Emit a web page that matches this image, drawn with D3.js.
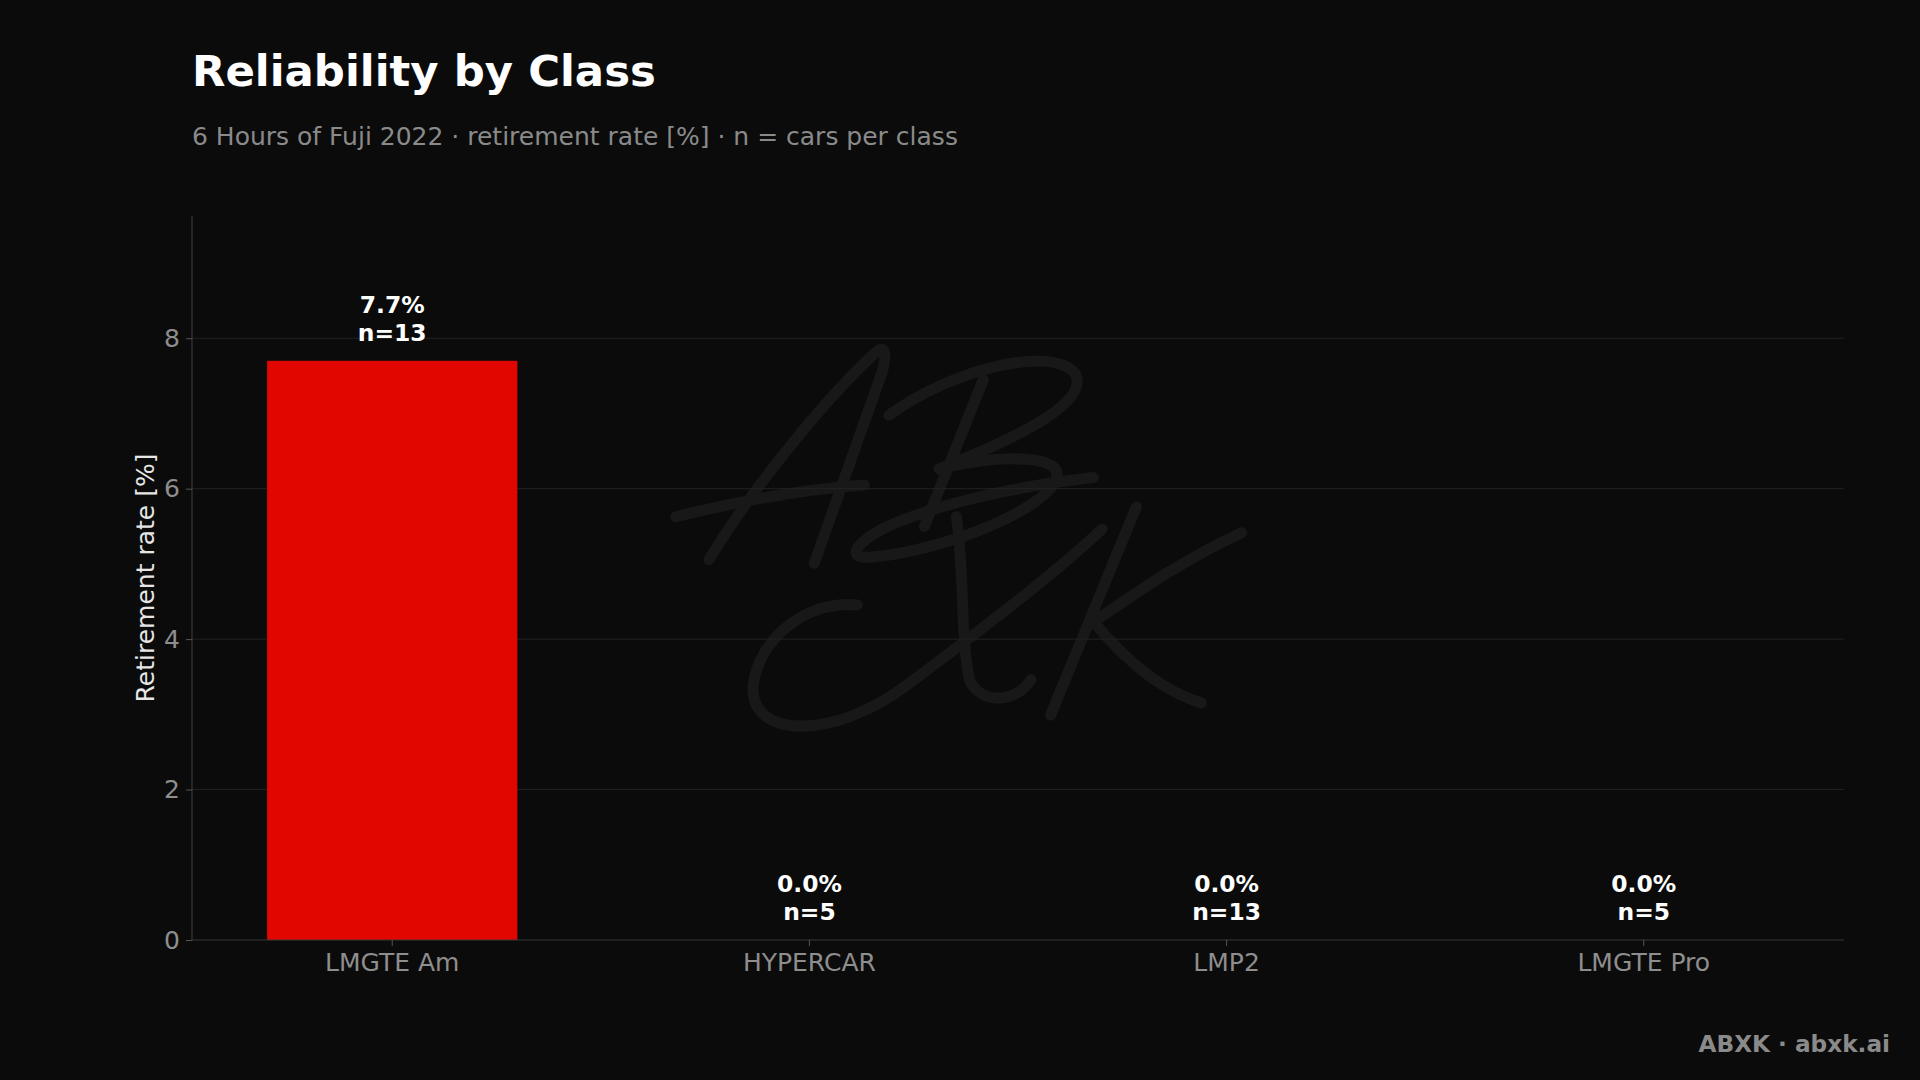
<!DOCTYPE html>
<html>
<head>
<meta charset="utf-8">
<script src="https://cdn.jsdelivr.net/npm/d3@7"></script>
<style>
  html, body { margin: 0; padding: 0; background: #0b0b0b; }
  svg { display: block; }
  text { font-family: "DejaVu Sans", sans-serif; }
</style>
</head>
<body>
<svg id="chart" width="1920" height="1080"></svg>
<script>
// ---- data ----
const categories = ["LMGTE Am", "HYPERCAR", "LMP2", "LMGTE Pro"];
const retirementRate = [7.7, 0.0, 0.0, 0.0];
const carsPerClass = [13, 5, 13, 5];
const yTicks = [0, 2, 4, 6, 8];
const titleText = "Reliability by Class";
const subtitleText = "6 Hours of Fuji 2022 \u00b7 retirement rate [%] \u00b7 n = cars per class";
const yLabelText = "Retirement rate [%]";
const footerText = "ABXK \u00b7 abxk.ai";

(function () {
// ---- layout ----
const W = 1920, H = 1080;
const pLeft = 192, pRight = 1844, pTop = 216, pBottom = 940;
const BG = "#0b0b0b";
const barColor = "#e10600";

const svg = d3.select("#chart");
svg.append("rect").attr("width", W).attr("height", H).attr("fill", BG);

// watermark (decorative signature)
const wm = svg.append("g")
  .attr("transform", "scale(" + (1920 / 1568) + ")")
  .attr("fill", "none")
  .attr("stroke", "#181818")
  .attr("stroke-width", 9)
  .attr("stroke-linecap", "round")
  .attr("stroke-linejoin", "round");
[
  "M579,457 C620,390 680,320 716,287 C724,281 724,292 720,305 L665,460",
  "M552,422 C600,410 650,400 706,396",
  "M726,339 C780,300 860,282 878,305 C892,330 820,362 767,383",
  "M767,383 C820,370 872,372 862,392 C850,420 760,452 710,455 C688,457 700,438 742,423 C790,405 850,395 893,390",
  "M803,310 L755,430",
  "M700,494 C660,490 620,520 615,560 C612,603 680,605 740,560 C800,515 860,470 900,432",
  "M781,422 C788,470 784,520 792,556 C802,576 830,574 842,555",
  "M928,414 L858,584",
  "M1014,435 C960,460 920,490 893,508 C920,540 950,565 981,574"
].forEach(d => wm.append("path").attr("d", d));

// ---- scales ----
const x = d3.scaleBand()
  .domain(categories)
  .range([pLeft, pRight])
  .paddingInner(0.4)
  .paddingOuter(0.18)
  .align(0.5);

const yMax = d3.max(retirementRate) * 1.25;
const y = d3.scaleLinear().domain([0, yMax]).range([pBottom, pTop]);

// gridlines
svg.append("g")
  .selectAll("line")
  .data(yTicks.filter(t => t > 0))
  .join("line")
  .attr("x1", pLeft).attr("x2", pRight)
  .attr("y1", d => y(d)).attr("y2", d => y(d))
  .attr("stroke", "#232323")
  .attr("stroke-width", 1);

// bars
const data = categories.map((c, i) => ({ c, v: retirementRate[i], n: carsPerClass[i] }));
svg.append("g")
  .selectAll("rect")
  .data(data)
  .join("rect")
  .attr("x", d => x(d.c))
  .attr("width", x.bandwidth())
  .attr("y", d => y(d.v))
  .attr("height", d => y(0) - y(d.v))
  .attr("fill", barColor);

// axes
const yAxis = svg.append("g")
  .attr("transform", `translate(${pLeft},0)`)
  .call(d3.axisLeft(y).tickValues(yTicks).tickFormat(d3.format("d")).tickSize(6).tickPadding(6));
const xAxis = svg.append("g")
  .attr("transform", `translate(0,${pBottom})`)
  .call(d3.axisBottom(x).tickSize(6).tickPadding(7));

[yAxis, xAxis].forEach(g => {
  g.select(".domain").attr("stroke", "#383838").attr("stroke-width", 1.2);
  g.selectAll(".tick line").attr("stroke", "#555");
  g.selectAll(".tick text")
    .attr("fill", "#8e8e8e")
    .style("font-family", "'DejaVu Sans', sans-serif")
    .style("font-size", "25px");
});
yAxis.select(".domain").attr("d", `M0,${pBottom}V${pTop}`);
xAxis.select(".domain").attr("d", `M${pLeft},0H${pRight}`);

// value labels
const lab = svg.append("g")
  .attr("text-anchor", "middle")
  .attr("fill", "#ffffff")
  .style("font-weight", "bold")
  .style("font-size", "23.4px");
data.forEach(d => {
  const cx = x(d.c) + x.bandwidth() / 2;
  const yb = y(d.v) - 20;
  lab.append("text").attr("x", cx).attr("y", yb - 28).text(d.v.toFixed(1) + "%");
  lab.append("text").attr("x", cx).attr("y", yb).text("n=" + d.n);
});

// y label
svg.append("text")
  .attr("transform", `translate(154,${(pTop + pBottom) / 2}) rotate(-90)`)
  .attr("text-anchor", "middle")
  .attr("fill", "#e6e6e6")
  .style("font-size", "25px")
  .text(yLabelText);

// title & subtitle
svg.append("text")
  .attr("x", 192).attr("y", 86)
  .attr("fill", "#ffffff")
  .style("font-weight", "bold")
  .style("font-size", "43.4px")
  .text(titleText);
svg.append("text")
  .attr("x", 192).attr("y", 145)
  .attr("fill", "#8a8a8a")
  .style("font-size", "25px")
  .text(subtitleText);

// footer
svg.append("text")
  .attr("x", 1890).attr("y", 1052)
  .attr("text-anchor", "end")
  .attr("fill", "#8a8a8a")
  .style("font-weight", "bold")
  .style("font-size", "23.2px")
  .text(footerText);
})();
</script>
</body>
</html>
